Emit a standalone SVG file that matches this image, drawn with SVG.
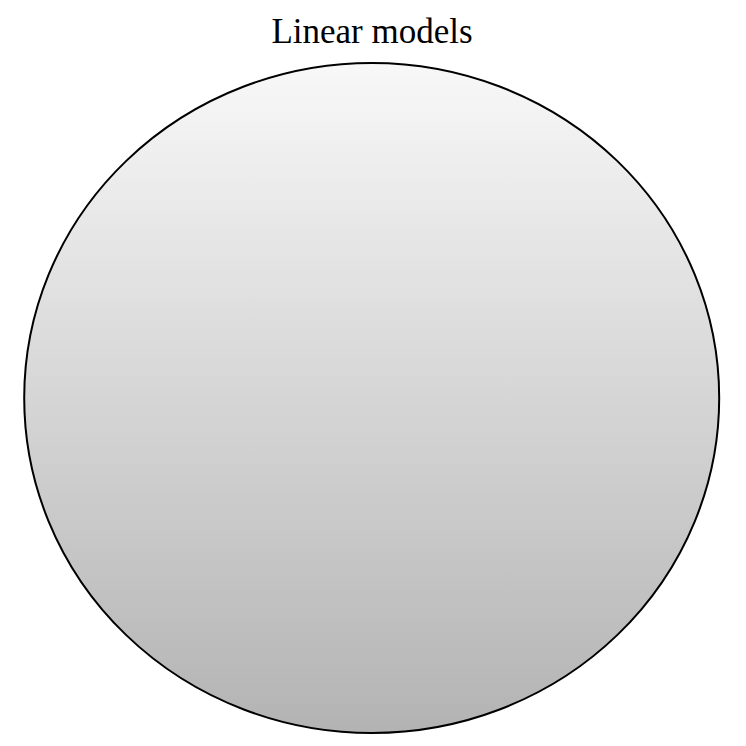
<svg xmlns="http://www.w3.org/2000/svg" width="746" height="746" viewBox="0 0 746 746">
<style>
.title{font-family:"Liberation Serif","Times New Roman",serif;font-size:35px;fill:#000;}
.set{stroke:#000;stroke-width:2;}
</style>
<defs>
<linearGradient id="g" x1="0" y1="0" x2="0" y2="1">
<stop offset="0" stop-color="#f8f8f8"/>
<stop offset="1" stop-color="#b3b3b3"/>
</linearGradient>
</defs>
<rect width="746" height="746" fill="#fff"/>
<g id="linear-models">
<ellipse class="set" cx="371.7" cy="398" rx="347.5" ry="335" fill="url(#g)"/>
<text class="title" x="372" y="43" text-anchor="middle">Linear models</text>
</g>
<g id="connectors"></g>
</svg>
